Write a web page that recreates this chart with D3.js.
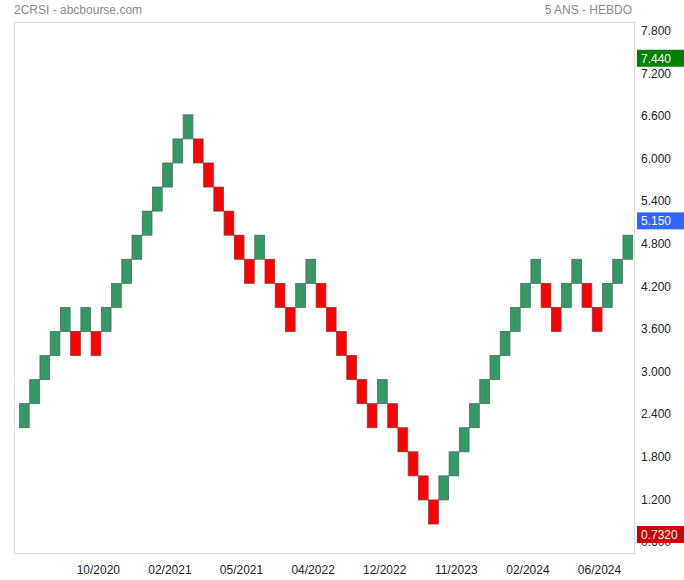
<!DOCTYPE html>
<html>
<head>
<meta charset="utf-8">
<script src="https://cdn.jsdelivr.net/npm/d3@7"></script>
<style>
  html, body { margin: 0; padding: 0; background: #fff; }
  svg { display: block; font-family: Arial, "Liberation Sans", sans-serif; }
</style>
</head>
<body>
<svg id="chart" width="684" height="580"></svg>
<script>
// ---- data ----
const titleLeft = "2CRSI - abcbourse.com";
const titleRight = "5 ANS - HEBDO";

const brickOpen = [2.208, 2.547, 2.886, 3.225, 3.564, 3.564, 3.564, 3.564, 3.564, 3.903,
  4.242, 4.581, 4.920, 5.259, 5.598, 5.937, 6.276, 6.276, 5.937, 5.598,
  5.259, 4.920, 4.581, 4.581, 4.581, 4.242, 3.903, 3.903, 4.242, 4.242,
  3.903, 3.564, 3.225, 2.886, 2.547, 2.547, 2.547, 2.208, 1.869, 1.530,
  1.191, 1.191, 1.530, 1.869, 2.208, 2.547, 2.886, 3.225, 3.564, 3.903,
  4.242, 4.242, 3.903, 3.903, 4.242, 4.242, 3.903, 3.903, 4.242, 4.581];
const brickClose = [2.547, 2.886, 3.225, 3.564, 3.903, 3.225, 3.903, 3.225, 3.903, 4.242,
  4.581, 4.920, 5.259, 5.598, 5.937, 6.276, 6.615, 5.937, 5.598, 5.259,
  4.920, 4.581, 4.242, 4.920, 4.242, 3.903, 3.564, 4.242, 4.581, 3.903,
  3.564, 3.225, 2.886, 2.547, 2.208, 2.886, 2.208, 1.869, 1.530, 1.191,
  0.852, 1.530, 1.869, 2.208, 2.547, 2.886, 3.225, 3.564, 3.903, 4.242,
  4.581, 3.903, 3.564, 4.242, 4.581, 3.903, 3.564, 4.242, 4.581, 4.920];

const yTickValues = [0.6, 1.2, 1.8, 2.4, 3.0, 3.6, 4.2, 4.8, 5.4, 6.0, 6.6, 7.2, 7.8];
const xTickBricks = [8, 15, 22, 29, 36, 43, 50, 57];
const xTickLabels = ["10/2020", "02/2021", "05/2021", "04/2022", "12/2022", "11/2023", "02/2024", "06/2024"];

const markerValues = [7.44, 5.15, 0.732];
const markerLabels = ["7.440", "5.150", "0.7320"];
const markerColors = ["#008000", "#3366ff", "#cc0000"];

// ---- layout ----
const frame = { left: 14, top: 22, right: 635, bottom: 554 };
const svg = d3.select("#chart");

const x = d3.scaleBand()
  .domain(d3.range(brickOpen.length))
  .range([19, 632.7])
  .padding(0);

const y = d3.scaleLinear()
  .domain([0.4296, 7.9225])
  .range([frame.bottom, frame.top]);

// titles
svg.append("text")
  .attr("x", 14).attr("y", 14)
  .attr("font-size", 12).attr("fill", "#8a8a8a")
  .text(titleLeft);
svg.append("text")
  .attr("x", 632).attr("y", 14)
  .attr("text-anchor", "end")
  .attr("font-size", 12).attr("fill", "#8a8a8a")
  .text(titleRight);

// frame
svg.append("rect")
  .attr("x", frame.left + 0.5).attr("y", frame.top + 0.5)
  .attr("width", frame.right - frame.left - 1)
  .attr("height", frame.bottom - frame.top - 1)
  .attr("fill", "none").attr("stroke", "#dcdcdc").attr("stroke-width", 1);

// bricks
const bricks = brickOpen.map((o, i) => ({ i, o, c: brickClose[i] }));
svg.append("g").selectAll("rect")
  .data(bricks)
  .join("rect")
  .attr("x", d => x(d.i) + 0.5)
  .attr("y", d => y(Math.max(d.o, d.c)))
  .attr("width", x.bandwidth() - 0.5)
  .attr("height", d => y(Math.min(d.o, d.c)) - y(Math.max(d.o, d.c)))
  .attr("fill", d => d.c > d.o ? "#339966" : "#ff0000")
  .attr("stroke", d => d.c > d.o ? "#4f6e5f" : "#8a3a3a")
  .attr("stroke-width", 0.8);

// right axis
const yAxis = d3.axisRight(y).tickValues(yTickValues)
  .tickSize(0).tickPadding(0)
  .tickFormat(d3.format(".3f"));
const yg = svg.append("g")
  .attr("transform", `translate(641,0)`)
  .call(yAxis);
yg.select(".domain").remove();
yg.selectAll("text").attr("font-size", 12).attr("fill", "#222")
  .attr("font-family", "Arial, 'Liberation Sans', sans-serif")
  .attr("x", 0);

// bottom axis labels
const xg = svg.append("g");
xg.selectAll("text")
  .data(xTickBricks)
  .join("text")
  .attr("x", (d) => x(d) - 2.5)
  .attr("y", 574)
  .attr("text-anchor", "middle")
  .attr("font-size", 12).attr("fill", "#222")
  .text((d, i) => xTickLabels[i]);

// value markers
const mk = svg.append("g");
markerValues.forEach((v, i) => {
  const cy = y(v) + 2;
  mk.append("rect")
    .attr("x", 637).attr("y", cy - 8.5)
    .attr("width", 47).attr("height", 17)
    .attr("fill", markerColors[i]);
  mk.append("text")
    .attr("x", 641).attr("y", cy + 4.5)
    .attr("font-size", 12).attr("fill", "#fff")
    .text(markerLabels[i]);
});
</script>
</body>
</html>
